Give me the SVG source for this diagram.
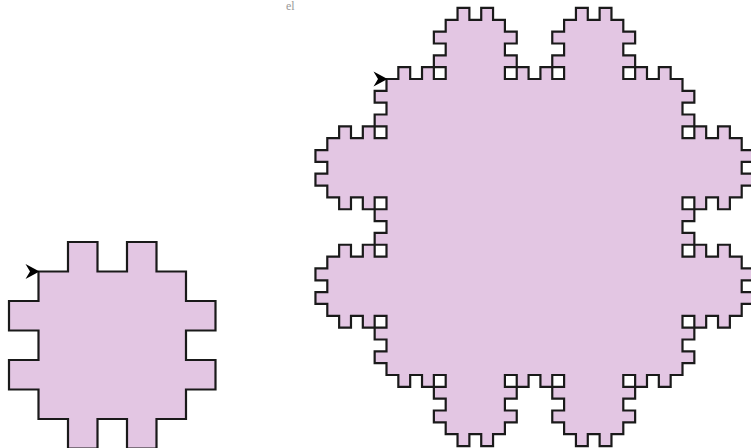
<svg xmlns="http://www.w3.org/2000/svg" width="751" height="448" viewBox="0 0 751 448">
<style>
.k{fill:#e3c6e3;stroke:#1a1a1a;stroke-width:2.2;stroke-linejoin:miter;vector-effect:non-scaling-stroke}
.a{fill:#000}
.t{font-family:"Liberation Serif",serif;font-size:12px;fill:#999999}
</style>
<defs>
<path id="arrow" d="M1,0 L-13,-7.5 L-8.5,0 L-13,7.5 Z"/>
</defs>
<text class="t" x="286" y="10">el</text>
<g id="small">
<path class="k" transform="translate(38.5,271.5) scale(29.5)" d="M0,0 h1v-1h1v1h1v-1h1v1h1 v1h1v1h-1v1h1v1h-1v1 h-1v1h-1v-1h-1v1h-1v-1h-1 v-1h-1v-1h1v-1h-1v-1h1v-1 Z"/>
<use href="#arrow" class="a" transform="translate(38.5,271.5)"/>
</g>
<g id="large">
<path class="k" transform="translate(386.5,79) scale(11.84)" d="M0,0
h1v-1h1v1h1v-1h1v1h1 v-1h-1v-1h1v-1h-1v-1h1v-1 h1v-1h1v1h1v-1h1v1h1 v1h1v1h-1v1h1v1h-1v1 h1v-1h1v1h1v-1h1v1h1 v-1h-1v-1h1v-1h-1v-1h1v-1 h1v-1h1v1h1v-1h1v1h1 v1h1v1h-1v1h1v1h-1v1 h1v-1h1v1h1v-1h1v1h1
v1h1v1h-1v1h1v1h-1v1 h1v-1h1v1h1v-1h1v1h1 v1h1v1h-1v1h1v1h-1v1 h-1v1h-1v-1h-1v1h-1v-1h-1 v1h1v1h-1v1h1v1h-1v1 h1v-1h1v1h1v-1h1v1h1 v1h1v1h-1v1h1v1h-1v1 h-1v1h-1v-1h-1v1h-1v-1h-1 v1h1v1h-1v1h1v1h-1v1
h-1v1h-1v-1h-1v1h-1v-1h-1 v1h1v1h-1v1h1v1h-1v1 h-1v1h-1v-1h-1v1h-1v-1h-1 v-1h-1v-1h1v-1h-1v-1h1v-1 h-1v1h-1v-1h-1v1h-1v-1h-1 v1h1v1h-1v1h1v1h-1v1 h-1v1h-1v-1h-1v1h-1v-1h-1 v-1h-1v-1h1v-1h-1v-1h1v-1 h-1v1h-1v-1h-1v1h-1v-1h-1
v-1h-1v-1h1v-1h-1v-1h1v-1 h-1v1h-1v-1h-1v1h-1v-1h-1 v-1h-1v-1h1v-1h-1v-1h1v-1 h1v-1h1v1h1v-1h1v1h1 v-1h-1v-1h1v-1h-1v-1h1v-1 h-1v1h-1v-1h-1v1h-1v-1h-1 v-1h-1v-1h1v-1h-1v-1h1v-1 h1v-1h1v1h1v-1h1v1h1 v-1h-1v-1h1v-1h-1v-1h1v-1 Z"/>
<use href="#arrow" class="a" transform="translate(386.5,79)"/>
</g>
</svg>
